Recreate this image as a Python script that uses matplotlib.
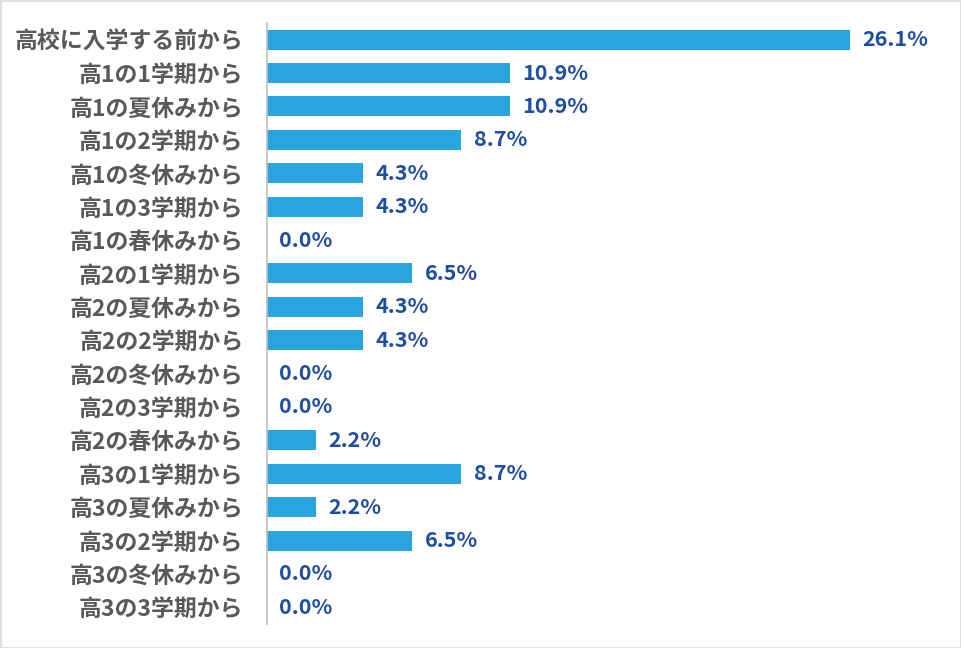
import matplotlib
matplotlib.use("Agg")
import matplotlib.pyplot as plt
from matplotlib.patches import Rectangle

plt.rcParams['font.family'] = ['Noto Sans CJK JP', 'DejaVu Sans']

categories = ["高校に入学する前から", "高1の1学期から", "高1の夏休みから", "高1の2学期から",
              "高1の冬休みから", "高1の3学期から", "高1の春休みから", "高2の1学期から",
              "高2の夏休みから", "高2の2学期から", "高2の冬休みから", "高2の3学期から",
              "高2の春休みから", "高3の1学期から", "高3の夏休みから", "高3の2学期から",
              "高3の冬休みから", "高3の3学期から"]
values = [26.1, 10.9, 10.9, 8.7, 4.3, 4.3, 0.0, 6.5, 4.3, 4.3, 0.0, 0.0, 2.2, 8.7, 2.2, 6.5, 0.0, 0.0]

fig = plt.figure(figsize=(9.62, 6.48), dpi=100)
ax = fig.add_axes([267/962, 24/648, 670/962, 601/648])

y = list(range(len(categories)))
ax.barh(y, values, height=0.6, color='#29A4DE')
ax.set_ylim(len(categories) - 0.5, -0.5)
ax.set_xlim(0, 30)
ax.set_yticks(y)
ax.set_yticklabels(categories, fontsize=16.5, fontweight='bold', color='#595959')
ax.tick_params(axis='y', length=0, pad=17)
ax.set_xticks([])
for s in ['top', 'right', 'bottom']:
    ax.spines[s].set_visible(False)
ax.spines['left'].set_color('#BFBFBF')
ax.spines['left'].set_linewidth(1.2)

for yi, v in zip(y, values):
    ax.text(v + 0.55, yi, f"{v:.1f}%", va='center', ha='left', fontsize=15.5,
            fontweight='bold', color='#1F4E9E')

fig.patches.append(Rectangle((0.5/962, 0.5/648), 1 - 1.5/962, 1 - 1.5/648,
                             transform=fig.transFigure, fill=False,
                             edgecolor='#D9D9D9', linewidth=1.2))
fig.savefig('out.png', dpi=100)
